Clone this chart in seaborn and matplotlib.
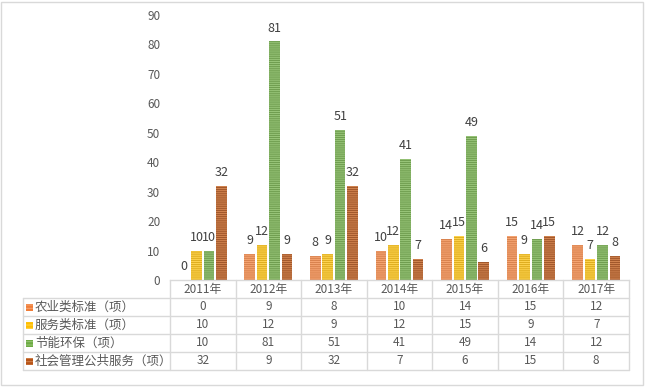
import numpy as np
import pandas as pd
import seaborn as sns
import matplotlib.pyplot as plt
from matplotlib.patches import Rectangle

# datos del grafico
years = ['2011年', '2012年', '2013年', '2014年', '2015年', '2016年', '2017年']
series = ['农业类标准（项）', '服务类标准（项）', '节能环保（项）', '社会管理公共服务（项）']
agri = [0, 9, 8, 10, 14, 15, 12]
service = [10, 12, 9, 12, 15, 9, 7]
energy = [10, 81, 51, 41, 49, 14, 12]
social = [32, 9, 32, 7, 6, 15, 8]

face = ['#F07D38', '#FFBE00', '#6DAB43', '#B65317']
stripe = ['#F6A573', '#FFD551', '#99C67A', '#D38551']
grid_col = '#D9D9D9'
HATCH = '-' * 8

sns.set_theme(style='white')
plt.rcParams['font.family'] = ['Noto Sans CJK SC', 'DejaVu Sans']
plt.rcParams['hatch.linewidth'] = 0.7

W, H = 645, 387
fig = plt.figure(figsize=(W / 100, H / 100), dpi=100)
ax = fig.add_axes([170 / W, (H - 280) / H, (629 - 170) / W, (280 - 15) / H])

df = pd.DataFrame({
    '年份': years * 4,
    '类别': np.repeat(series, len(years)),
    '数量': agri + service + energy + social,
})
sns.barplot(data=df, x='年份', y='数量', hue='类别', palette=face,
            width=0.76, gap=0.15, ax=ax, legend=False)

# rayado horizontal en cada barra
for cont, col in zip(ax.containers, stripe):
    for bar in cont:
        bar.set_edgecolor(col)
        bar.set_linewidth(0)
        bar.set_hatch(HATCH)
    ax.bar_label(cont, padding=5, color='#404040', fontsize=9)

ax.set_xlim(-0.5, len(years) - 0.5)
ax.set_ylim(0, 90)
ax.set_yticks(range(0, 91, 10))
ax.tick_params(axis='y', length=0, pad=7, labelsize=8.5, labelcolor='#595959')
ax.set_xticks([])
ax.set_xlabel('')
ax.set_ylabel('')
for s in ['left', 'top', 'right']:
    ax.spines[s].set_visible(False)
ax.spines['bottom'].set_color(grid_col)
ax.spines['bottom'].set_linewidth(1)

# tabla de datos debajo
unit_px = (629 - 170) / len(years)
label_w = (170 - 23) / unit_px
x0 = -0.5 - label_w
tab = fig.add_axes([23 / W, (H - 370) / H, (629 - 23) / W, 90 / H])
tab.set_xlim(x0, len(years) - 0.5)
tab.set_ylim(5, 0)
tab.axis('off')

for i in range(len(years) + 1):
    tab.plot([i - 0.5, i - 0.5], [0, 5], color=grid_col, lw=1, clip_on=False)
tab.plot([x0, x0], [1, 5], color=grid_col, lw=1, clip_on=False)
for r in range(1, 6):
    tab.plot([x0, len(years) - 0.5], [r, r], color=grid_col, lw=1, clip_on=False)

for i, y in enumerate(years):
    tab.text(i, 0.5, y, ha='center', va='center', fontsize=8.5, color='#595959')

rows = [agri, service, energy, social]
row_h = 18
for r, (name, vals) in enumerate(zip(series, rows)):
    yc = r + 1.5
    sq = Rectangle((x0 + 3 / unit_px, yc - 3.5 / row_h), 7 / unit_px, 7 / row_h,
                   facecolor=face[r], edgecolor=stripe[r], lw=0, hatch='-' * 5)
    tab.add_patch(sq)
    tab.text(x0 + 12 / unit_px, yc, name, ha='left', va='center', fontsize=9, color='#595959')
    for i, v in enumerate(vals):
        tab.text(i, yc, str(v), ha='center', va='center', fontsize=8.5, color='#595959')

# borde exterior
fig.patches.append(Rectangle((1 / W, 2 / H), 642 / W, 383 / H, transform=fig.transFigure,
                             fill=False, edgecolor=grid_col, lw=1))

fig.savefig('out.png', dpi=100)
